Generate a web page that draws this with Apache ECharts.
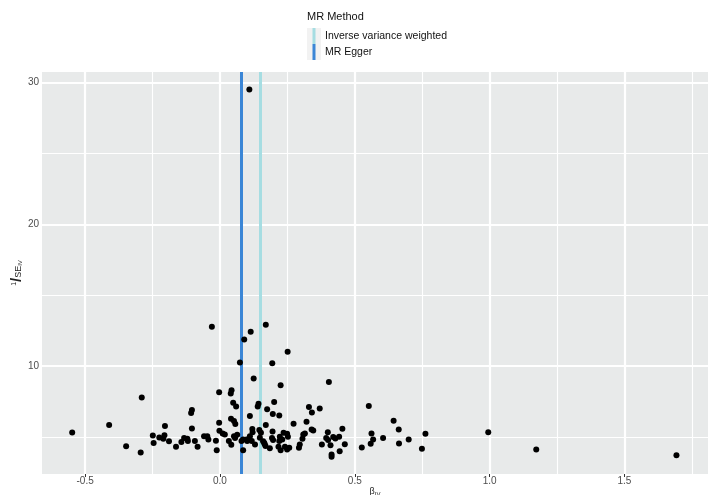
<!DOCTYPE html>
<html>
<head>
<meta charset="utf-8">
<script src="https://cdn.jsdelivr.net/npm/echarts@6/dist/echarts.min.js"></script>
<style>
  html, body { margin: 0; padding: 0; background: #fff; }
  #chart { width: 715px; height: 495px; }
</style>
</head>
<body>
<div id="chart"></div>
<script>
// Per-SNP IV estimates (beta_IV) and their precision (1 / SE_IV)
const betaIV = [
  -0.548, -0.411, -0.348, -0.294, -0.290, -0.249, -0.246, -0.225, -0.210, -0.204,
  -0.206, -0.189, -0.163, -0.143, -0.133, -0.121, -0.119, -0.104, -0.107, -0.104,
  -0.093, -0.083, -0.059, -0.047, -0.043, -0.030, -0.015, -0.012, -0.003, -0.003,
  -0.002, 0.010, 0.018, 0.033, 0.042, 0.043, 0.040, 0.049, 0.060, 0.041,
  0.052, 0.057, 0.052, 0.064, 0.056, 0.074, 0.080, 0.086, 0.090, 0.099,
  0.109, 0.111, 0.114, 0.111, 0.120, 0.121, 0.118, 0.125, 0.130, 0.143,
  0.140, 0.146, 0.152, 0.148, 0.164, 0.169, 0.170, 0.170, 0.175, 0.185,
  0.193, 0.197, 0.195, 0.194, 0.201, 0.196, 0.220, 0.225, 0.222, 0.220,
  0.217, 0.225, 0.236, 0.231, 0.249, 0.252, 0.241, 0.249, 0.257, 0.251,
  0.273, 0.296, 0.293, 0.309, 0.315, 0.306, 0.321, 0.330, 0.341, 0.340,
  0.346, 0.370, 0.378, 0.400, 0.394, 0.401, 0.404, 0.410, 0.414, 0.414,
  0.420, 0.428, 0.442, 0.444, 0.454, 0.463, 0.526, 0.552, 0.562, 0.568,
  0.559, 0.605, 0.644, 0.663, 0.664, 0.700, 0.749, 0.762, 0.995, 1.173,
  1.693, 0.086, 0.101, 0.160, 0.166, 0.109
];
const invSE = [
  5.33, 5.85, 4.36, 3.92, 7.79, 5.12, 4.58, 4.98, 4.89, 5.78,
  5.14, 4.70, 4.32, 4.65, 4.93, 4.89, 4.72, 6.91, 6.70, 5.61,
  4.72, 4.32, 5.07, 5.07, 4.84, 12.78, 4.75, 4.08, 8.16, 6.02,
  5.45, 5.26, 5.19, 4.72, 4.46, 8.30, 8.07, 7.43, 7.15, 6.30,
  6.13, 5.92, 5.07, 5.17, 4.93, 10.26, 4.72, 4.08, 11.89, 4.84,
  29.5, 5.07, 12.43, 6.49, 5.57, 5.35, 4.72, 9.13, 4.48, 7.36,
  7.15, 5.50, 5.31, 4.96, 4.60, 4.38, 12.92, 5.85, 6.96, 4.22,
  4.93, 4.79, 5.40, 10.21, 7.48, 6.63, 6.53, 8.66, 5.03, 4.72,
  4.32, 4.08, 5.31, 4.84, 5.24, 5.03, 4.32, 4.13, 4.25, 11.01,
  5.95, 4.48, 4.25, 5.19, 5.26, 4.89, 6.09, 7.12, 6.73, 5.54,
  5.47, 7.01, 4.48, 5.35, 4.93, 4.79, 8.89, 4.43, 3.78, 3.62,
  5.00, 4.91, 5.03, 4.00, 5.59, 4.50, 4.27, 7.19, 5.26, 4.84,
  4.53, 4.93, 6.16, 5.54, 4.55, 4.84, 4.18, 5.24, 5.35, 4.13,
  3.73, 4.84, 4.72, 4.70, 4.49, 4.89
];

// MR method estimates drawn as vertical reference lines
const methodNames = ['Inverse variance weighted', 'MR Egger'];
const methodEstimates = [0.152, 0.077];
const methodColors = ['#a6dde2', '#3b86d6'];

// Axis ranges and ticks
const xRange = [-0.66, 1.81];
const yRange = [2.4, 30.74];
const xMajorTicks = [-0.5, 0, 0.5, 1.0, 1.5];
const xMinorTicks = [-0.25, 0.25, 0.75, 1.25, 1.75];
const yMajorTicks = [10, 20, 30];
const yMinorTicks = [5, 15, 25];

const points = betaIV.map((b, i) => [b, invSE[i]]);

const gridLines = []
  .concat(xMajorTicks.map(v => ({ xAxis: v, lineStyle: { width: 2.2 } })))
  .concat(xMinorTicks.map(v => ({ xAxis: v, lineStyle: { width: 1.1 } })))
  .concat(yMajorTicks.map(v => ({ yAxis: v, lineStyle: { width: 2.2 } })))
  .concat(yMinorTicks.map(v => ({ yAxis: v, lineStyle: { width: 1.1 } })));

const FONT = '"Liberation Sans", Arial, Helvetica, sans-serif';
const keyIcon = 'path://M0,0h0.01v0.01h-0.01zM14,16h0.01v0.01h-0.01zM5.5,0h3v16h-3z';

const chart = echarts.init(document.getElementById('chart'), null, { renderer: 'canvas' });

const methodSeries = methodNames.map((name, i) => ({
  name: name,
  type: 'line',
  data: [],
  color: methodColors[i],
  markLine: {
    silent: true,
    symbol: 'none',
    z: 3,
    label: { show: false },
    emphasis: { disabled: true },
    lineStyle: { color: methodColors[i], width: 3, type: 'solid' },
    data: [{ xAxis: methodEstimates[i] }]
  }
}));

chart.setOption({
  animation: false,
  textStyle: { fontFamily: FONT },
  title: {
    text: 'MR Method',
    left: 307,
    top: 11,
    padding: 0,
    textStyle: { fontFamily: FONT, fontSize: 11, fontWeight: 'normal', color: '#111' }
  },
  legend: {
    data: methodNames.map(n => ({ name: n, icon: keyIcon })),
    orient: 'vertical',
    left: 307,
    top: 28,
    padding: 0,
    itemGap: 0,
    itemWidth: 14,
    itemHeight: 16,
    selectedMode: false,
    textStyle: { fontFamily: FONT, fontSize: 10.5, color: '#111', padding: [0, 0, 0, -1] }
  },
  graphic: [{
    type: 'rect',
    left: 307,
    top: 28,
    z: -1,
    shape: { width: 14, height: 32 },
    style: { fill: '#f2f2f2' }
  }],
  grid: {
    left: 42, right: 7, top: 72, bottom: 21,
    outerBoundsMode: 'none',
    containLabel: false,
    show: true,
    backgroundColor: '#e8eaea',
    borderWidth: 0
  },
  xAxis: {
    type: 'value',
    min: xRange[0],
    max: xRange[1],
    name: '{b|β}{s|IV}',
    nameLocation: 'middle',
    nameGap: 13,
    nameMoveOverlap: false,
    nameTextStyle: {
      verticalAlign: 'top',
      rich: {
        b: { fontFamily: FONT, fontSize: 9, color: '#222' },
        s: { fontFamily: FONT, fontSize: 6, color: '#222', padding: [4, 0, 0, 0] }
      }
    },
    axisLine: { show: false },
    splitLine: { show: false },
    axisTick: { show: true, length: 3, customValues: xMajorTicks, lineStyle: { color: '#333', width: 1 } },
    axisLabel: {
      customValues: xMajorTicks,
      margin: 2,
      fontFamily: FONT,
      fontSize: 10,
      color: '#4d4d4d',
      formatter: v => v.toFixed(1)
    }
  },
  yAxis: {
    type: 'value',
    min: yRange[0],
    max: yRange[1],
    name: '{a|1}{b|/}{c|SE}{d|IV}',
    nameLocation: 'middle',
    nameRotate: 90,
    nameGap: 18,
    nameMoveOverlap: false,
    nameTextStyle: {
      rich: {
        a: { fontFamily: FONT, fontSize: 7, color: '#222', padding: [0, 0, 5, 0] },
        b: { fontFamily: FONT, fontSize: 15, fontWeight: 'bold', color: '#222' },
        c: { fontFamily: FONT, fontSize: 9, color: '#222', padding: [4, 0, 0, 0] },
        d: { fontFamily: FONT, fontSize: 6, color: '#222', padding: [8, 0, 0, 0] }
      }
    },
    axisLine: { show: false },
    splitLine: { show: false },
    axisTick: { show: true, length: 3, customValues: yMajorTicks, lineStyle: { color: '#333', width: 1 } },
    axisLabel: {
      customValues: yMajorTicks,
      margin: 3,
      fontFamily: FONT,
      fontSize: 10,
      color: '#4d4d4d'
    }
  },
  series: [
    {
      name: 'grid',
      type: 'line',
      data: [],
      markLine: {
        silent: true,
        symbol: 'none',
        z: 1,
        label: { show: false },
        emphasis: { disabled: true },
        lineStyle: { color: '#ffffff', type: 'solid' },
        data: gridLines
      }
    },
    ...methodSeries,
    {
      name: 'SNP',
      type: 'scatter',
      z: 10,
      symbol: 'circle',
      symbolSize: 6,
      itemStyle: { color: '#000000', opacity: 1 },
      emphasis: { disabled: true },
      data: points
    }
  ]
});
</script>
</body>
</html>
